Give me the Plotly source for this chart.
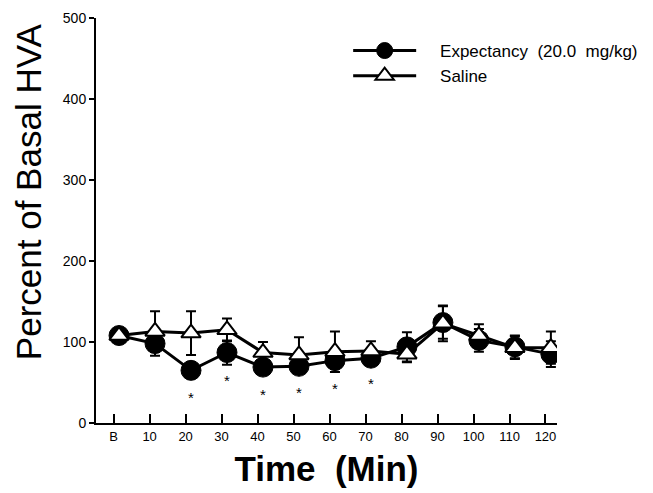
import plotly.graph_objects as go

time_labels = ["B", "10", "20", "30", "40", "50", "60", "70", "80", "90", "100", "110", "120"]
time_index = list(range(len(time_labels)))

expectancy = [108, 98, 65, 87, 69, 70, 77, 80, 94, 124, 102, 94, 85]
expectancy_err = [3, 15, 5, 15, 5, 5, 8, 6, 18, 20, 14, 14, 16]

saline = [108, 113, 111, 115, 87, 84, 88, 89, 85, 123, 108, 93, 93]
saline_err = [3, 25, 27, 14, 13, 22, 25, 12, 10, 22, 14, 14, 20]

sig_index = [2, 3, 4, 5, 6, 7]
sig_y = [29, 50, 33, 35, 41, 46]

font_family = "Liberation Sans, Arial, Helvetica, sans-serif"
pad = "\u00a0" * 4

fig = go.Figure()

fig.add_trace(go.Scatter(
    x=time_index, y=expectancy, mode="lines+markers",
    name=pad + "Expectancy  (20.0  mg/kg)",
    line=dict(color="black", width=3),
    marker=dict(symbol="circle", size=20, color="black", line=dict(color="black", width=1)),
    error_y=dict(type="data", array=expectancy_err, visible=True, color="black", thickness=2, width=5),
))

fig.add_trace(go.Scatter(
    x=time_index, y=saline, mode="lines+markers",
    name=pad + "Saline",
    line=dict(color="black", width=3),
    marker=dict(symbol="triangle-up", size=17, color="white", line=dict(color="black", width=2)),
    error_y=dict(type="data", array=saline_err, visible=True, color="black", thickness=2, width=5),
))

fig.add_trace(go.Scatter(
    x=sig_index, y=sig_y, mode="text", text=["*"] * len(sig_index),
    textfont=dict(size=15, color="black", family=font_family),
    showlegend=False, hoverinfo="skip",
))

fig.update_layout(
    width=653, height=493,
    margin=dict(l=96, r=96, t=18, b=70, autoexpand=False),
    paper_bgcolor="white", plot_bgcolor="white",
    font=dict(family=font_family, color="black"),
    showlegend=True,
    legend=dict(
        x=0.547, y=0.963, xanchor="left", yanchor="top",
        font=dict(size=17, color="black", family=font_family),
        bgcolor="rgba(0,0,0,0)", itemwidth=63, tracegroupgap=0,
    ),
    xaxis=dict(
        range=[-0.64, 12.17],
        tickmode="array", tickvals=[i - 0.15 for i in time_index], ticktext=time_labels,
        ticks="inside", ticklen=9, tickwidth=2, tickcolor="black",
        showline=True, linecolor="black", linewidth=2,
        showgrid=False, zeroline=False,
        tickfont=dict(size=13, color="black"),
        title=dict(text="<b>Time  (Min)</b>", font=dict(size=35, color="black"), standoff=14),
    ),
    yaxis=dict(
        range=[0, 500],
        tickmode="array", tickvals=[0, 100, 200, 300, 400, 500],
        ticks="outside", ticklen=5, tickwidth=2, tickcolor="black",
        showline=True, linecolor="black", linewidth=2,
        showgrid=False, zeroline=False,
        tickfont=dict(size=14, color="black"),
    ),
    annotations=[dict(
        text="Percent of Basal HVA", textangle=-90,
        xref="paper", yref="paper", x=-0.1475, y=0.570,
        xanchor="center", yanchor="middle", showarrow=False,
        font=dict(size=35, color="black", family=font_family),
    )],
)

fig.write_html("out.html")
